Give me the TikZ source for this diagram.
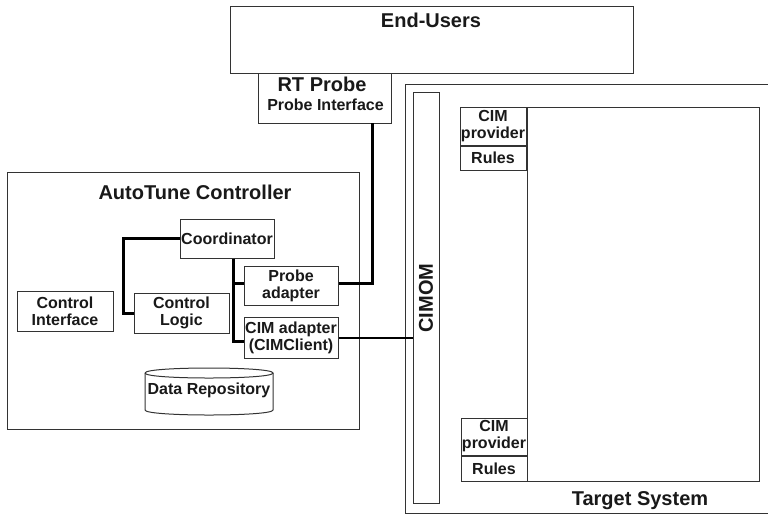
\documentclass[tikz,border=0pt]{standalone}
\usepackage{fontspec}
\setmainfont{Liberation Sans}
\tikzset{
 every node/.style={font=\bfseries\fontsize{16}{17}\selectfont, text=black!90},
 box/.style={draw=black!80, line width=1pt, inner sep=0pt, align=center},
 big/.style={font=\bfseries\fontsize{20}{22}\selectfont},
 conn/.style={line width=3pt, black},
 connthin/.style={line width=2pt, black},
 frame/.style={draw=black!80, line width=1pt},
}
\begin{document}
\begin{tikzpicture}[x=1pt,y=-1pt]
\useasboundingbox (0,0) rectangle (768,515);
\fill[white] (0,0) rectangle (768,515);

% End-Users
\node[box, minimum width=403, minimum height=67] (eu) at (431.5,39.5) {};
\node[big, anchor=base] (eut) at (431,27) {End-Users};

% RT Probe
\node[box, minimum width=133, minimum height=50] (rtp) at (324.5,98) {};
\node[big, anchor=base] (rtpt) at (322,91) {RT Probe};
\node[anchor=base] (rtpi) at (325.5,110) {Probe Interface};

% Target system
\coordinate (tsa) at (769,84);
\coordinate (tsb) at (405,84);
\coordinate (tsc) at (405,513);
\coordinate (tsd) at (769,513);
\draw[frame] (tsa) -- (tsb) -- (tsc) -- (tsd);
\node[big, anchor=base] (tst) at (640,505) {Target System};

% CIMOM
\node[box, minimum width=26, minimum height=411] (cimom) at (426,297.5) {};
\node[big, rotate=90] (cimomt) at (426,298) {CIMOM};

% providers
\node[box, minimum width=66, minimum height=38] (cp1) at (493,126) {CIM\\provider};
\node[box, minimum width=66, minimum height=24, anchor=north] (r1) at (cp1.south) {Rules};
\node[box, minimum width=232, minimum height=374, anchor=north west] (sys) at (527,107) {};
\node[box, minimum width=66, minimum height=37] (cp2) at (494,436.5) {CIM\\provider};
\node[box, minimum width=66, minimum height=25, anchor=north] (r2) at (cp2.south) {Rules};

% AutoTune
\node[box, minimum width=352, minimum height=257, anchor=north west] (atc) at (7,172) {};
\node[big, anchor=base] (atct) at (195,199) {AutoTune Controller};

\node[box, minimum width=94, minimum height=39] (coord) at (227,238.5) {Coordinator};
\node[box, minimum width=94, minimum height=39] (pad) at (291,285.5) {Probe\\adapter};
\node[box, minimum width=96, minimum height=40] (ci) at (65,311) {Control\\Interface};
\node[box, minimum width=95, minimum height=40] (cl) at (181.5,313) {Control\\Logic};
\node[box, minimum width=94, minimum height=41] (cima) at (291,337.5) {CIM adapter\\(CIMClient)};

% Data repository cylinder
\draw[frame] (145,373) .. controls (145,366.33) and (273,366.33) .. (273,373)
  .. controls (273,379.67) and (145,379.67) .. (145,373);
\draw[frame] (145,373) -- (145,410) .. controls (145,416.67) and (273,416.67) .. (273,410) -- (273,373);
\node[anchor=base] (drt) at (209,394) {Data Repository};

% connectors
\coordinate (k1) at (123,313);
\coordinate (j1) at (233,283);
\coordinate (p1) at (372,123);
\draw[conn] (coord.west) -| (k1) -- (cl.west);
\draw[conn] ([xshift=6pt]coord.south) |- ([yshift=-3.5pt]cima.west);
\draw[conn] (j1) -- ([yshift=2.5pt]pad.west);
\draw[conn] ([yshift=2.5pt]pad.east) -| (p1);
\draw[connthin] (cima.east) -- (cima.east -| cimom.west);
\end{tikzpicture}
\end{document}
